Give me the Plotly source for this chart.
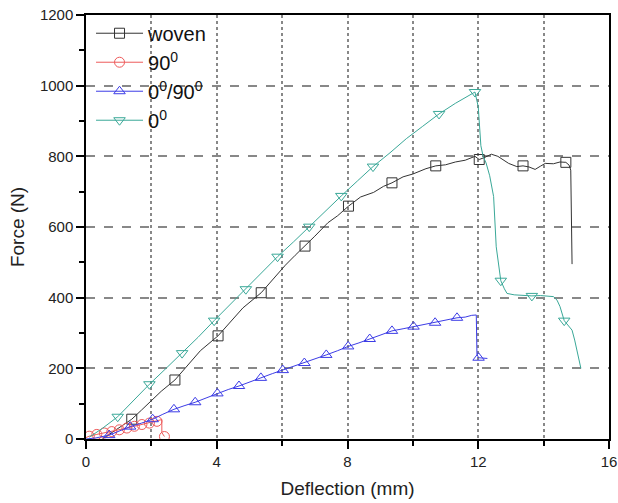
import plotly.graph_objects as go

# ---- data ----
woven_x = [0.5, 0.8, 1.1, 1.4, 1.7, 2.0, 2.3, 2.72, 3.1, 3.5, 4.04, 4.4, 4.8, 5.36, 5.7, 6.1, 6.4, 6.70,
           7.0, 7.4, 7.7, 8.03, 8.4, 8.8, 9.1, 9.36, 9.7, 10.0, 10.4, 10.70, 11.0, 11.3, 11.6, 11.9,
           12.03, 12.2, 12.4, 12.6, 12.93, 13.18, 13.37, 13.55, 13.74, 13.9, 14.05, 14.3, 14.5, 14.68,
           14.78, 14.83, 14.87]
woven_y = [0, 18, 38, 56, 82, 108, 135, 167, 208, 250, 292, 330, 371, 414, 450, 492, 520, 546,
           574, 612, 632, 659, 685, 698, 715, 725, 742, 750, 765, 773, 776, 784, 789, 800,
           791, 797, 806, 800, 780, 771, 773, 770, 763, 772, 780, 779, 784, 783,
           775, 761, 495]
woven_mx = [1.4, 2.72, 4.04, 5.36, 6.70, 8.03, 9.36, 10.70, 12.03, 13.37, 14.68]
woven_my = [56, 167, 292, 414, 546, 659, 725, 773, 791, 773, 783]

r90_x = [0.0, 0.1, 0.33, 0.56, 0.79, 1.02, 1.25, 1.48, 1.71, 1.94, 2.17, 2.32, 2.32, 2.4]
r90_y = [4, 8, 13, 17, 21, 26, 31, 36, 41, 45, 50, 55, 18, 7]
r90_mx = [0.1, 0.33, 0.56, 0.79, 1.02, 1.25, 1.48, 1.71, 1.94, 2.17, 2.4]
r90_my = [8, 13, 17, 21, 26, 31, 36, 41, 45, 50, 7]

cp_x = [0.0, 0.3, 0.71, 1.0, 1.35, 1.7, 2.04, 2.35, 2.69, 3.0, 3.34, 3.7, 4.02, 4.35, 4.68, 5.0, 5.35,
        5.7, 6.02, 6.35, 6.68, 7.0, 7.35, 7.7, 8.02, 8.35, 8.68, 9.0, 9.36, 9.7, 10.02, 10.35, 10.68,
        11.0, 11.35, 11.6, 11.8, 11.94, 11.96, 12.01, 12.15, 12.28]
cp_y = [0, 3, 11, 22, 35, 45, 56, 70, 84, 94, 104, 117, 129, 140, 150, 162, 173,
        185, 195, 205, 215, 227, 238, 250, 262, 272, 283, 294, 306, 312, 318, 323, 329,
        335, 343, 345, 350, 351, 240, 230, 228, 228]
cp_mx = [0.71, 1.35, 2.04, 2.69, 3.34, 4.02, 4.68, 5.35, 6.02, 6.68, 7.35, 8.02, 8.68, 9.36,
         10.02, 10.68, 11.35, 12.01]
cp_my = [11, 35, 56, 84, 104, 129, 150, 173, 195, 215, 238, 262, 283, 306, 318, 329, 343, 230]

z0_x = [0.1, 0.5, 0.97, 1.45, 1.94, 2.45, 2.94, 3.43, 3.92, 4.4, 4.89, 5.38, 5.86, 6.35, 6.83, 7.3,
        7.81, 8.3, 8.78, 9.3, 9.8, 10.3, 10.8, 11.3, 11.75, 11.9, 12.0, 12.08, 12.15, 12.24, 12.35,
        12.47, 12.55, 12.62, 12.69, 12.8, 12.88, 13.1, 13.4, 13.64, 13.9, 14.1, 14.3, 14.41, 14.5,
        14.63, 14.75, 14.87, 14.95, 15.02, 15.08, 15.14]
z0_y = [5, 30, 63, 110, 155, 200, 243, 288, 335, 380, 424, 470, 516, 558, 601, 645,
        688, 730, 771, 810, 850, 885, 920, 950, 975, 982, 940, 830, 800, 781, 745,
        686, 544, 490, 448, 425, 412, 408, 406, 405, 406, 404, 403, 393, 375,
        335, 320, 308, 280, 252, 225, 200]
z0_mx = [0.97, 1.94, 2.94, 3.92, 4.89, 5.86, 6.83, 7.81, 8.78, 10.8, 11.9, 12.69, 13.64, 14.63]
z0_my = [63, 155, 243, 335, 424, 516, 601, 688, 771, 920, 982, 448, 405, 335]

x_ticks = [0, 4, 8, 12, 16]
y_ticks = [0, 200, 400, 600, 800, 1000, 1200]

series = [
    ("woven", "#333333", "square-open", woven_x, woven_y, woven_mx, woven_my),
    ("90<sup>0</sup>", "#ee5a5a", "circle-open", r90_x, r90_y, r90_mx, r90_my),
    ("0<sup>0</sup>/90<sup>0</sup>", "#3c3ce6", "triangle-up-open", cp_x, cp_y, cp_mx, cp_my),
    ("0<sup>0</sup>", "#3aa898", "triangle-down-open", z0_x, z0_y, z0_mx, z0_my),
]

fig = go.Figure()
for name, col, sym, lx, ly, mx, my in series:
    fig.add_trace(go.Scatter(x=lx, y=ly, mode="lines", line=dict(color=col, width=1),
                             showlegend=False, legendgroup=name, hoverinfo="skip"))
    fig.add_trace(go.Scatter(x=mx, y=my, mode="markers",
                             marker=dict(symbol=sym, size=10, color=col, line=dict(color=col, width=1)),
                             showlegend=False, legendgroup=name))
    fig.add_trace(go.Scatter(x=[None], y=[None], mode="lines+markers", name=name, legendgroup=name,
                             line=dict(color=col, width=1),
                             marker=dict(symbol=sym, size=10, color=col, line=dict(color=col, width=1))))

axis_common = dict(showline=True, linecolor="black", linewidth=1.5, mirror=True,
                   ticks="outside", tickcolor="black", ticklen=8, tickwidth=1.5,
                   zeroline=False, automargin=False, tickfont=dict(size=15, color="#222"))

fig.update_xaxes(range=[0, 16], tickvals=x_ticks, showgrid=True, gridcolor="#888",
                 griddash="dot", gridwidth=1.5,
                 minor=dict(dtick=2, tick0=0, ticks="outside", ticklen=5, tickcolor="black",
                            showgrid=True, gridcolor="#888", griddash="dot", gridwidth=1.5),
                 title=dict(text="Deflection (mm)", font=dict(size=19, color="#222"), standoff=13),
                 **axis_common)
fig.update_yaxes(range=[0, 1200], tickvals=y_ticks, showgrid=True, gridcolor="#888",
                 griddash="dash", gridwidth=1.5,
                 minor=dict(dtick=100, tick0=0, ticks="outside", ticklen=5, tickcolor="black",
                            showgrid=False),
                 title=dict(text="Force (N)", font=dict(size=19, color="#222"), standoff=10),
                 **axis_common)

fig.update_layout(
    width=618, height=503,
    margin=dict(l=86, r=9, t=15, b=64),
    paper_bgcolor="white", plot_bgcolor="white",
    font=dict(family="Arial, Liberation Sans, sans-serif", color="#222"),
    legend=dict(x=0.0096, y=1.003, xanchor="left", yanchor="top", bgcolor="rgba(255,255,255,0)",
                font=dict(size=20, color="#111"), itemwidth=47, tracegroupgap=0),
)

fig.write_html("out.html", config={"displayModeBar": False},
               post_script="document.body.style.margin='0px';")
